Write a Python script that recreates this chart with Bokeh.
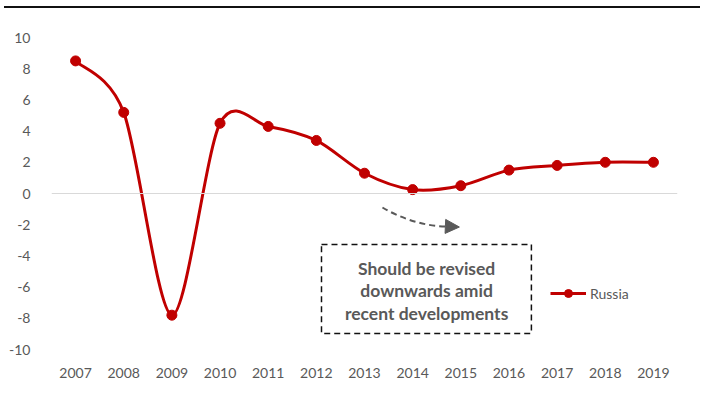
from bokeh.plotting import figure
from bokeh.layouts import column
from bokeh.models import (Range1d, FixedTicker, Span, Legend, LegendItem, Arrow,
                          NormalHead, Div)
from bokeh.core.properties import value
from bokeh.embed import file_html
from bokeh.resources import INLINE

# ---- data ----
years = [2007, 2008, 2009, 2010, 2011, 2012, 2013, 2014, 2015, 2016, 2017, 2018, 2019]
year_labels = ["2007", "2008", "2009", "2010", "2011", "2012", "2013", "2014",
               "2015", "2016", "2017", "2018", "2019"]
russia = [8.5, 5.2, -7.8, 4.5, 4.3, 3.4, 1.3, 0.25, 0.5, 1.5, 1.8, 2.0, 2.0]
y_ticks = [-10, -8, -6, -4, -2, 0, 2, 4, 6, 8, 10]
y_tick_labels = ["-10", "-8", "-6", "-4", "-2", "0", "2", "4", "6", "8", "10"]
series_name = "Russia"
note_lines = ["Should be revised", "downwards amid", "recent developments"]

FONT = "Lato"
GREY = "#595959"
RED = "#c00000"

# ---- top rule ----
top = Div(width=701, height=10, margin=0,
          text='<div style="position:absolute;left:4px;top:6px;width:696px;height:2px;background:#111111"></div>')

# ---- main chart ----
p = figure(width=701, height=385, x_range=Range1d(2006.5, 2019.5), y_range=Range1d(-10, 10),
           toolbar_location=None, output_backend="svg",
           min_border_left=51, min_border_right=24, min_border_top=27, min_border_bottom=46)
p.outline_line_color = None
p.grid.visible = False

p.yaxis.ticker = FixedTicker(ticks=y_ticks)
p.yaxis.major_label_overrides = {t: l for t, l in zip(y_ticks, y_tick_labels)}
p.yaxis.axis_line_color = None
p.yaxis.major_tick_line_color = None
p.yaxis.minor_tick_line_color = None
p.yaxis.major_label_standoff = 15
p.yaxis.major_label_text_font = FONT
p.yaxis.major_label_text_font_size = "14px"
p.yaxis.major_label_text_color = GREY

p.xaxis.ticker = FixedTicker(ticks=years)
p.xaxis.major_label_overrides = {y: l for y, l in zip(years, year_labels)}
p.xaxis.axis_line_color = None
p.xaxis.major_tick_line_color = None
p.xaxis.minor_tick_line_color = None
p.xaxis.major_label_standoff = 12
p.xaxis.major_label_text_font = FONT
p.xaxis.major_label_text_font_size = "14px"
p.xaxis.major_label_text_color = GREY

p.add_layout(Span(location=0, dimension="width", line_color="#d9d9d9", line_width=1))

# smooth (Catmull-Rom style) bezier segments through the data
k = 0.15
n = len(years)
x0, y0, x1, y1, cx0, cy0, cx1, cy1 = [], [], [], [], [], [], [], []
for i in range(n - 1):
    pm = max(i - 1, 0)
    pp = min(i + 2, n - 1)
    x0.append(years[i]); y0.append(russia[i])
    x1.append(years[i + 1]); y1.append(russia[i + 1])
    cx0.append(years[i] + (years[i + 1] - years[pm]) * k)
    cy0.append(russia[i] + (russia[i + 1] - russia[pm]) * k)
    cx1.append(years[i + 1] - (years[pp] - years[i]) * k)
    cy1.append(russia[i + 1] - (russia[pp] - russia[i]) * k)
curve = p.bezier(x0=x0, y0=y0, x1=x1, y1=y1, cx0=cx0, cy0=cy0, cx1=cx1, cy1=cy1,
                 line_color=RED, line_width=3)
pts = p.scatter(x=years, y=russia, size=10, marker="circle", fill_color=RED, line_color=RED)

# annotation box
p.quad(left=[2012.107], right=[2016.466], top=[-3.27], bottom=[-8.97],
       fill_color=None, line_color="#111111", line_width=1.5, line_dash="6 4")
p.text(x=[2014.29] * 3, y=[-4.83, -6.22, -7.69], text=note_lines,
       text_font=value(FONT), text_font_style="bold", text_font_size="17.5px",
       text_color=GREY, text_align="center", text_baseline="middle")

# dashed curved arrow
p.bezier(x0=[2013.373], y0=[-0.897], x1=[2014.70], y1=[-2.11],
         cx0=[2013.75], cy0=[-1.60], cx1=[2014.27], cy1=[-2.12],
         line_color=GREY, line_width=2, line_dash="6 4")
p.add_layout(Arrow(end=NormalHead(size=14, fill_color=GREY, line_color=GREY),
                   x_start=2014.68, y_start=-2.11, x_end=2014.97, y_end=-2.15,
                   line_alpha=0))

legend = Legend(items=[LegendItem(label=series_name, renderers=[curve, pts])],
                location=(499, 46), padding=0, margin=0, spacing=0,
                glyph_width=36, glyph_height=20, label_height=20, label_standoff=4,
                label_text_font=FONT, label_text_font_size="14px", label_text_color=GREY,
                background_fill_alpha=0, border_line_color=None)
p.add_layout(legend)

layout = column(top, p, spacing=0)
open("out.html", "w").write(file_html(layout, INLINE))
